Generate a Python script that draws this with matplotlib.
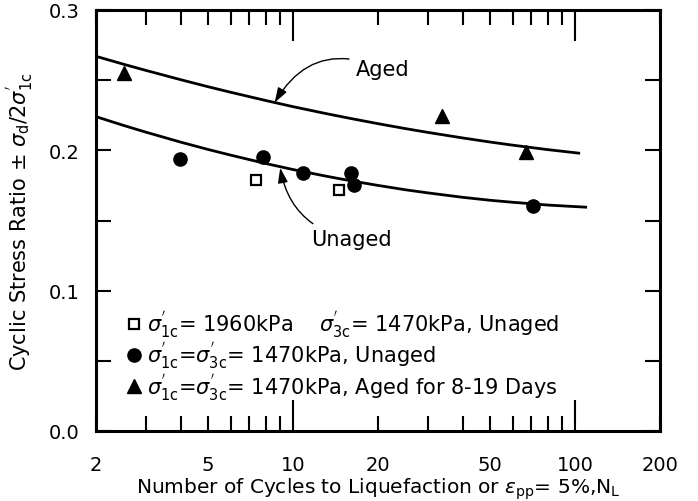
import matplotlib
matplotlib.use("Agg")
import matplotlib.pyplot as plt
from matplotlib.ticker import FixedLocator, FuncFormatter, NullFormatter

# ---- data ----
sq_N = [7.4, 14.6]
sq_csr = [0.179, 0.172]

circ_N = [3.96, 7.85, 10.8, 16.1, 16.5, 71.0]
circ_csr = [0.194, 0.195, 0.184, 0.184, 0.175, 0.160]

tri_N = [2.51, 33.7, 67.2]
tri_csr = [0.255, 0.2245, 0.199]

aged_curve_N = [2, 2.5, 3, 4, 5, 6, 8, 10, 13, 16, 20, 25, 30, 40, 50, 60, 80, 103]
aged_curve_csr = [0.267, 0.2614, 0.2570, 0.2503, 0.2453, 0.2414, 0.2355, 0.2311, 0.2263,
                  0.2227, 0.2190, 0.2155, 0.2128, 0.2088, 0.2059, 0.2037, 0.2005, 0.1980]

unaged_curve_N = [2, 2.5, 3, 4, 5, 6, 8, 10, 13, 16, 20, 25, 30, 40, 50, 60, 80, 109]
unaged_curve_csr = [0.224, 0.2178, 0.2130, 0.2058, 0.2006, 0.1966, 0.1906, 0.1863, 0.1817,
                    0.1783, 0.1750, 0.1719, 0.1697, 0.1665, 0.1644, 0.1630, 0.1610, 0.1595]

x_label_vals = [2, 5, 10, 20, 50, 100, 200]
y_tick_vals = [0.0, 0.1, 0.2, 0.3]

legend_labels = [
    r"$\sigma^{'}_{\mathrm{1c}}$= 1960kPa    $\sigma^{'}_{\mathrm{3c}}$= 1470kPa, Unaged",
    r"$\sigma^{'}_{\mathrm{1c}}$=$\sigma^{'}_{\mathrm{3c}}$= 1470kPa, Unaged",
    r"$\sigma^{'}_{\mathrm{1c}}$=$\sigma^{'}_{\mathrm{3c}}$= 1470kPa, Aged for 8-19 Days",
]

plt.rcParams['font.family'] = ['DejaVu Sans']
plt.rcParams['mathtext.fontset'] = 'dejavusans'

fig = plt.figure(figsize=(6.98, 5.02), dpi=100)
ax = fig.add_axes([96/698, 70/502, 564/698, 421/502])

ax.set_xscale('log')
ax.set_xlim(2, 200)
ax.set_ylim(0, 0.3)

# curves
ax.plot(aged_curve_N, aged_curve_csr, color='black', lw=2.0, zorder=2)
ax.plot(unaged_curve_N, unaged_curve_csr, color='black', lw=2.0, zorder=2)

# points
h1, = ax.plot(sq_N, sq_csr, ls='none', marker='s', ms=7.5, mfc='white', mec='black', mew=1.6, zorder=3)
h2, = ax.plot(circ_N, circ_csr, ls='none', marker='o', ms=9.5, color='black', zorder=3)
h3, = ax.plot(tri_N, tri_csr, ls='none', marker='^', ms=9.5, color='black', zorder=3)

# annotations
ax.annotate('Aged', xy=(8.6, 0.2340), xytext=(16.7, 0.258), fontsize=15,
            ha='left', va='center',
            arrowprops=dict(arrowstyle='-|>,head_length=0.6,head_width=0.2', color='black', lw=1.0,
                            connectionstyle='arc3,rad=0.45', shrinkA=3, shrinkB=0))
ax.annotate('Unaged', xy=(9.0, 0.1875), xytext=(11.6, 0.137), fontsize=15,
            ha='left', va='center',
            arrowprops=dict(arrowstyle='-|>,head_length=0.6,head_width=0.2', color='black', lw=1.0,
                            connectionstyle='arc3,rad=-0.35', shrinkA=3, shrinkB=0))

# legend
leg = ax.legend([h1, h2, h3], legend_labels, loc='lower left', bbox_to_anchor=(0.025, 0.035),
                frameon=False, fontsize=15, handletextpad=0.15, labelspacing=0.05,
                handlelength=0.9, borderpad=0.2)

# ticks
ax.xaxis.set_major_locator(FixedLocator([10, 100]))
ax.xaxis.set_minor_locator(FixedLocator([2, 3, 4, 5, 6, 7, 8, 9, 20, 30, 40, 50, 60, 70, 80, 90, 200]))
ax.xaxis.set_major_formatter(FuncFormatter(lambda v, p: f"{int(round(v))}"))
ax.xaxis.set_minor_formatter(FuncFormatter(lambda v, p: f"{int(round(v))}" if int(round(v)) in x_label_vals else ""))
ax.tick_params(axis='x', which='major', direction='in', length=22, width=1.5, top=True, labelsize=14, pad=17)
ax.tick_params(axis='x', which='minor', direction='in', length=11, width=1.5, top=True, labelsize=14, pad=17)

ax.yaxis.set_major_locator(FixedLocator(y_tick_vals))
ax.yaxis.set_minor_locator(FixedLocator([0.05, 0.15, 0.25]))
ax.yaxis.set_major_formatter(FuncFormatter(lambda v, p: f"{v:.1f}"))
ax.yaxis.set_minor_formatter(NullFormatter())
ax.tick_params(axis='y', which='both', direction='in', length=11, width=1.5, right=True, labelsize=14, pad=12)

for s in ax.spines.values():
    s.set_linewidth(2.2)

ax.set_xlabel(r"Number of Cycles to Liquefaction or $\epsilon_{\mathrm{pp}}$= 5%,N$_{\mathrm{L}}$", fontsize=14.5, labelpad=1)
ax.set_ylabel(r"Cyclic Stress Ratio $\pm$ $\sigma_{\mathrm{d}}$/2$\sigma^{'}_{\mathrm{1c}}$", fontsize=15, labelpad=10)

fig.savefig('out.png', dpi=100)
